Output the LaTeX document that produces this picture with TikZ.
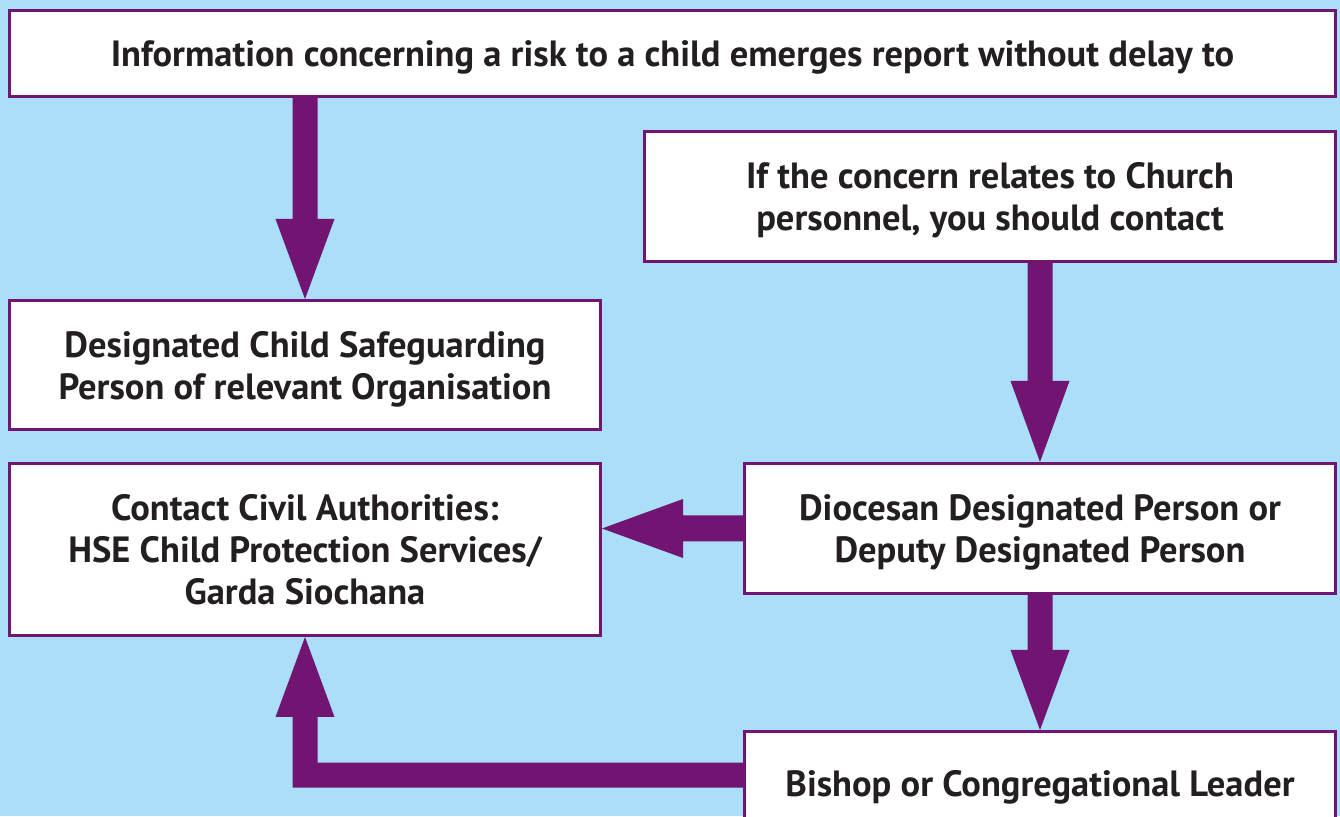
\documentclass[tikz,border=0pt]{standalone}
\usepackage{fontspec}
\setmainfont{PT Sans}
\usetikzlibrary{calc}
\definecolor{bgblue}{HTML}{ABDFF9}
\definecolor{pur}{HTML}{721472}
\definecolor{txt}{HTML}{231F20}
\begin{document}
\begin{tikzpicture}[x=1pt,y=1pt,
  box/.style={draw=pur, line width=3pt, fill=white, align=center, inner sep=0pt,
    text=txt, text depth=-5pt, font=\bfseries\fontsize{36.5}{42}\selectfont},
  arr/.style={fill=pur}]
\useasboundingbox (0,0) rectangle (1340,816);
\fill[bgblue] (0,0) rectangle (1340,816);

\node[box, minimum width=1326pt, minimum height=86pt] (b1) at (672.5,762.5)
  {Information concerning a risk to a child emerges report without delay to};
\node[box, minimum width=691pt, minimum height=130pt] (b2) at (990,619.5)
  {If the concern relates to Church\\personnel, you should contact};
\node[box, minimum width=591pt, minimum height=129pt] (b3) at (305,451)
  {Designated Child Safeguarding\\Person of relevant Organisation};
\node[box, minimum width=591pt, minimum height=172pt] (b4) at (305,266.5)
  {Contact Civil Authorities:\\HSE Child Protection Services/\\Garda Siochana};
\node[box, minimum width=591pt, minimum height=130pt] (b5) at (1040,287.5)
  {Diocesan Designated Person or\\Deputy Designated Person};
\node[box, minimum width=591pt, minimum height=103pt, anchor=north] (b6) at (1040,86)
  {Bishop or Congregational Leader};

% arrow b1 -> b3
\fill[arr] let \p1=(b3.north), \p2=(b1.south) in
  (\x1-12.5pt,\y2) -- (\x1-12.5pt,\y1+80pt) -- (\x1-29.5pt,\y1+80pt) -- (\x1,\y1)
  -- (\x1+29.5pt,\y1+80pt) -- (\x1+12.5pt,\y1+80pt) -- (\x1+12.5pt,\y2) -- cycle;
% arrow b2 -> b5
\fill[arr] let \p1=(b5.north), \p2=(b2.south) in
  (\x1-12.5pt,\y2) -- (\x1-12.5pt,\y1+81pt) -- (\x1-29.5pt,\y1+81pt) -- (\x1,\y1)
  -- (\x1+29.5pt,\y1+81pt) -- (\x1+12.5pt,\y1+81pt) -- (\x1+12.5pt,\y2) -- cycle;
% arrow b5 -> b6
\fill[arr] let \p1=(b6.north), \p2=(b5.south) in
  (\x1-12.5pt,\y2) -- (\x1-12.5pt,\y1+80pt) -- (\x1-29.5pt,\y1+80pt) -- (\x1,\y1)
  -- (\x1+29.5pt,\y1+80pt) -- (\x1+12.5pt,\y1+80pt) -- (\x1+12.5pt,\y2) -- cycle;
% arrow b5 -> b4
\fill[arr] let \p1=(b4.east), \p2=(b5.west) in
  (\x2,\y2+13pt) -- (\x1+81pt,\y2+13pt) -- (\x1+81pt,\y2+29.5pt) -- (\x1,\y2)
  -- (\x1+81pt,\y2-29.5pt) -- (\x1+81pt,\y2-13pt) -- (\x2,\y2-13pt) -- cycle;
% elbow arrow b6 -> b4
\fill[arr] let \p1=(b4.south), \p2=($(b6.west)+(0,8)$) in
  (\x2,\y2+12.5pt) -- (\x1+12.5pt,\y2+12.5pt) -- (\x1+12.5pt,\y1-80pt)
  -- (\x1+29.5pt,\y1-80pt) -- (\x1,\y1) -- (\x1-29.5pt,\y1-80pt)
  -- (\x1-12.5pt,\y1-80pt) -- (\x1-12.5pt,\y2-12.5pt) -- (\x2,\y2-12.5pt) -- cycle;
\end{tikzpicture}
\end{document}
